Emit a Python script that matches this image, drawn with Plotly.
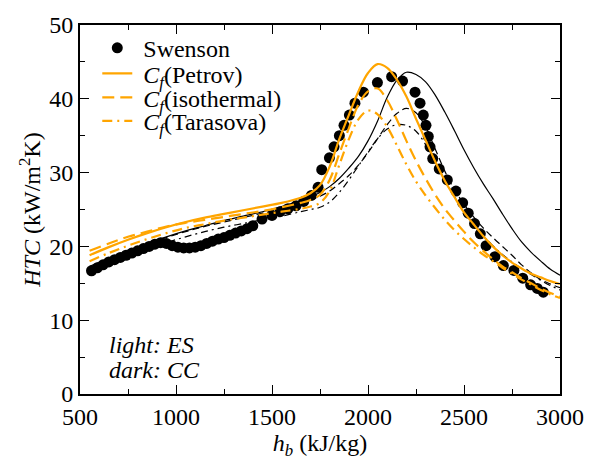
import plotly.graph_objects as go

# Swenson experimental data
sw_h = [560, 590, 620, 650, 680, 710, 740, 770, 800, 830, 860, 890, 920, 950, 980, 1010, 1040,
        1070, 1100, 1130, 1160, 1190, 1220, 1250, 1280, 1310, 1340, 1370, 1400, 1448, 1500, 1542,
        1583, 1625, 1665, 1705, 1740, 1759, 1799, 1823, 1851, 1875, 1903, 1932, 1976, 2049, 2123,
        2180, 2245, 2271, 2288, 2302, 2314, 2323, 2337, 2371, 2413, 2458, 2493, 2522, 2555, 2585,
        2615, 2661, 2705, 2760, 2806, 2847, 2882, 2913]
sw_htc = [16.7, 17.1, 17.5, 17.9, 18.2, 18.5, 18.8, 19.1, 19.4, 19.7, 20.0, 20.3, 20.5, 20.4, 20.1, 19.9, 19.8,
          19.8, 19.9, 20.1, 20.4, 20.7, 21.0, 21.2, 21.5, 21.8, 22.1, 22.4, 22.8, 23.7, 24.2, 24.7,
          25.1, 25.5, 26.1, 26.9, 28.0, 30.4, 32.0, 33.5, 35.0, 36.4, 37.8, 39.4, 40.9, 42.2, 43.0,
          42.4, 40.9, 39.4, 37.8, 36.4, 34.9, 33.5, 31.9, 30.5, 29.0, 27.5, 25.9, 24.5, 23.1, 21.7,
          20.1, 18.6, 17.4, 16.75, 15.7, 14.8, 14.3, 13.8]

# Model curves (shared enthalpy grid)
h = [550, 650, 750, 850, 950, 1050, 1150, 1250, 1350, 1450, 1550, 1650, 1700, 1750, 1800, 1850,
     1900, 1950, 2000, 2050, 2100, 2150, 2200, 2250, 2300, 2350, 2400, 2450, 2500, 2550, 2600,
     2650, 2700, 2750, 2800, 2850, 2900, 2950, 3000]

es_petrov = [18.8, 19.9, 20.9, 21.8, 22.6, 23.3, 23.9, 24.4, 24.9, 25.4, 25.9, 26.6, 27.2, 28.3, 30.8, 34.5,
             37.8, 41.0, 43.5, 44.7, 44.2, 42.6, 40.3, 37.3, 34.4, 31.5, 28.9, 26.7, 24.6, 23.0, 21.4,
             20.0, 18.8, 17.8, 17.0, 16.3, 15.8, 15.3, 14.9]
es_iso = [19.4, 20.4, 21.3, 22.0, 22.7, 23.2, 23.6, 24.0, 24.4, 24.8, 25.3, 25.9, 26.3, 27.0, 29.0, 32.5,
          36.0, 39.2, 41.0, 41.4, 39.8, 37.2, 34.3, 31.6, 29.2, 27.0, 25.1, 23.5, 22.0, 20.6, 19.4,
          18.3, 17.3, 16.5, 15.7, 15.0, 14.3, 13.7, 13.2]
es_tara = [18.0, 19.1, 20.1, 21.0, 21.8, 22.5, 23.0, 23.5, 23.9, 24.3, 24.7, 25.1, 25.4, 25.9, 27.5, 31.0,
           34.5, 37.2, 38.4, 37.9, 36.2, 33.7, 31.1, 28.8, 26.9, 25.2, 23.6, 22.2, 21.0, 19.9, 18.9,
           18.0, 17.1, 16.3, 15.5, 14.8, 14.1, 13.5, 13.0]
cc_petrov = [17.3, 18.4, 19.4, 20.4, 21.3, 22.1, 22.8, 23.5, 24.1, 24.7, 25.4, 26.2, 26.7, 27.3, 28.1, 29.2,
             30.6, 32.2, 34.3, 37.0, 40.2, 42.5, 43.6, 43.3, 42.3, 40.5, 38.2, 35.7, 33.1, 30.7, 28.5,
             26.5, 24.4, 22.4, 20.6, 19.2, 18.0, 16.9, 16.1]
cc_iso = [17.0, 18.2, 19.3, 20.3, 21.2, 22.0, 22.7, 23.3, 23.9, 24.5, 25.1, 25.8, 26.3, 26.8, 27.5, 28.5,
          29.6, 31.0, 32.7, 34.6, 36.5, 38.0, 38.7, 38.1, 36.2, 33.2, 30.2, 27.7, 25.7, 24.0, 22.5,
          21.2, 20.0, 18.8, 17.5, 16.4, 15.5, 14.9, 14.4]
cc_tara = [16.3, 17.5, 18.6, 19.6, 20.5, 21.3, 22.0, 22.6, 23.1, 23.6, 24.1, 24.7, 25.0, 25.3, 26.0, 27.3,
           29.0, 30.9, 32.8, 34.6, 35.9, 36.5, 36.4, 35.6, 33.8, 31.4, 29.0, 26.8, 24.8, 23.0, 21.4,
           20.1, 18.9, 17.9, 17.0, 16.2, 15.4, 14.7, 14.1]

x_ticks = [500, 1000, 1500, 2000, 2500, 3000]
y_ticks = [0, 10, 20, 30, 40, 50]

ORANGE = "#FFA500"
FONT = "Liberation Serif, Times New Roman, Times, DejaVu Serif, serif"
FS = 24
NB = "\u00a0"

fig = go.Figure()

# dark (CC) curves, thin black
fig.add_trace(go.Scatter(x=h, y=cc_petrov, mode="lines", line=dict(color="black", width=1.2, shape="spline"),
                         showlegend=False))
fig.add_trace(go.Scatter(x=h, y=cc_iso, mode="lines",
                         line=dict(color="black", width=1.2, dash="7px,4px", shape="spline"),
                         showlegend=False))
fig.add_trace(go.Scatter(x=h, y=cc_tara, mode="lines",
                         line=dict(color="black", width=1.2, dash="7px,4px,2px,4px", shape="spline"),
                         showlegend=False))

fig.add_trace(go.Scatter(x=sw_h, y=sw_htc, mode="markers", name=NB + "Swenson", legend="legend",
                         marker=dict(color="black", size=11, line=dict(width=0))))

fig.add_trace(go.Scatter(x=h, y=es_petrov, mode="lines", legend="legend2",
                         name=NB + "<i>C</i><sub><i>f</i></sub>(Petrov)",
                         line=dict(color=ORANGE, width=2.2, shape="spline")))
fig.add_trace(go.Scatter(x=h, y=es_iso, mode="lines", legend="legend3",
                         name=NB + "<i>C</i><sub><i>f</i></sub>(isothermal)",
                         line=dict(color=ORANGE, width=2.2, dash="12px,6px", shape="spline")))
fig.add_trace(go.Scatter(x=h, y=es_tara, mode="lines", legend="legend4",
                         name=NB + "<i>C</i><sub><i>f</i></sub>(Tarasova)",
                         line=dict(color=ORANGE, width=2.2, dash="10px,5px,2px,5px", shape="spline")))

fig.add_annotation(x=0.056, y=0.134, xref="paper", yref="paper", xanchor="left", yanchor="middle",
                   text="<i>light: ES</i>", showarrow=False,
                   font=dict(family=FONT, size=FS, color="black"))
fig.add_annotation(x=0.056, y=0.066, xref="paper", yref="paper", xanchor="left", yanchor="middle",
                   text="<i>dark: CC</i>", showarrow=False,
                   font=dict(family=FONT, size=FS, color="black"))

axis_common = dict(showline=True, linecolor="black", linewidth=1.7, mirror="ticks",
                   ticks="inside", ticklen=9, tickwidth=1.2, tickcolor="black",
                   showgrid=False, zeroline=False,
                   tickfont=dict(family=FONT, size=FS, color="black"))

fig.update_xaxes(range=[500, 3000], tickvals=x_ticks, ticktext=[str(v) for v in x_ticks],
                 minor=dict(ticks="inside", ticklen=5, dtick=250, tickcolor="black", tickwidth=1.2),
                 title=dict(text="<i>h</i><sub><i>b</i></sub> (kJ/kg)", font=dict(family=FONT, size=FS, color="black"),
                            standoff=2),
                 **axis_common)
fig.update_yaxes(range=[0, 50], tickvals=y_ticks, ticktext=[str(v) for v in y_ticks],
                 minor=dict(ticks="inside", ticklen=5, dtick=5, tickcolor="black", tickwidth=1.2),
                 title=dict(text="<i>HTC</i> (kW/m<sup>2</sup>K)", font=dict(family=FONT, size=FS, color="black"),
                            standoff=2),
                 **axis_common)

def leg(yc):
    return dict(x=0.036, y=yc, xanchor="left", yanchor="middle", bgcolor="rgba(0,0,0,0)",
                font=dict(family=FONT, size=FS, color="black"), itemwidth=30)

fig.update_layout(width=596, height=467, margin=dict(l=80, r=36, t=12, b=73),
                  paper_bgcolor="white", plot_bgcolor="white",
                  legend=leg(0.937), legend2=leg(0.868), legend3=leg(0.803), legend4=leg(0.739),
                  font=dict(family=FONT))

fig.write_html("out.html")
